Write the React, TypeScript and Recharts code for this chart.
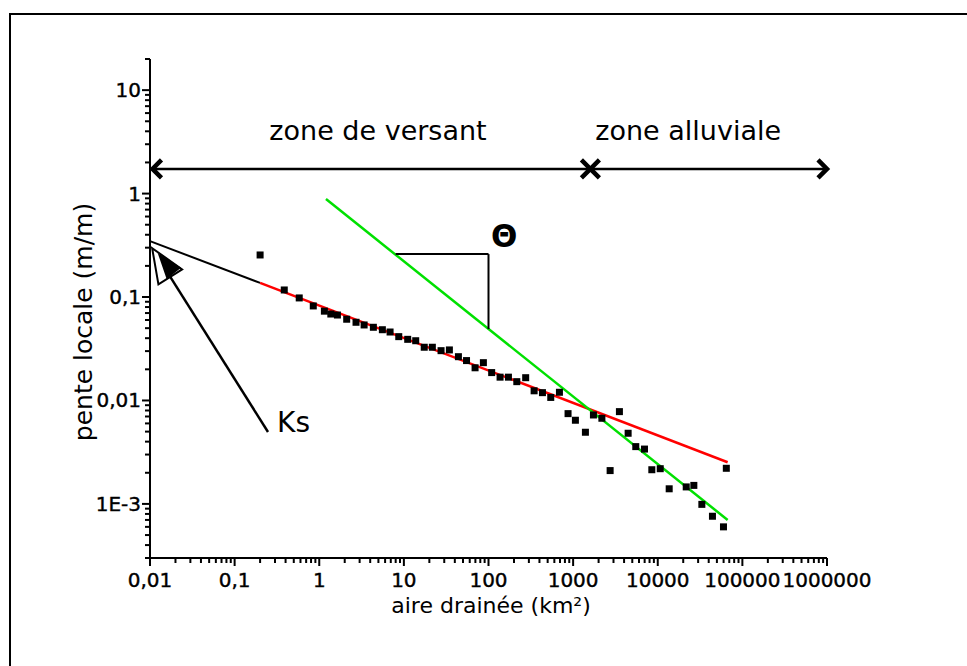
import React from 'react';
import {
  ScatterChart,
  Scatter,
  XAxis,
  YAxis,
  ReferenceLine,
  ReferenceDot,
} from 'recharts';

const FONT = '"DejaVu Sans", sans-serif';

// measured slope / area points
const area = [
  0.2, 0.386, 0.58, 0.85, 1.15, 1.37, 1.64, 2.11, 2.72, 3.39, 4.36, 5.57, 6.87, 8.7, 11.1, 13.8, 17.4,
  21.7, 27.5, 34.5, 44.1, 55, 69.4, 87, 109, 137, 172, 216, 275, 346, 434, 544, 689, 871, 1064, 1397,
  1738, 2187, 2737, 3524, 4467, 5500, 6970, 8510, 10700, 13650, 21700, 26700, 33200, 44300, 59800, 64600,
];
const slope = [
  0.255, 0.117, 0.098, 0.082, 0.073, 0.0685, 0.067, 0.061, 0.057, 0.0537, 0.051, 0.0483, 0.0459, 0.0414,
  0.039, 0.0378, 0.0327, 0.0327, 0.0303, 0.0308, 0.0265, 0.0243, 0.0207, 0.0232, 0.0186, 0.0168, 0.0168,
  0.0152, 0.0166, 0.0124, 0.0119, 0.0107, 0.012, 0.00746, 0.00644, 0.00493, 0.00724, 0.00673, 0.0021,
  0.0078, 0.00482, 0.00358, 0.00339, 0.00214, 0.00219, 0.0014, 0.00146, 0.00151, 0.00099, 0.00076,
  0.0006, 0.00221,
];

// fitted lines (endpoints)
const hillslopeFit = [{ x: 0.2, y: 0.137 }, { x: 67000, y: 0.00253 }];
const ksExtension = [{ x: 0.01, y: 0.347 }, { x: 0.2, y: 0.137 }];
const alluvialFit = [{ x: 1.2, y: 0.885 }, { x: 67000, y: 0.0007 }];
const thetaTriangle = [{ x: 8, y: 0.26 }, { x: 100, y: 0.26 }, { x: 100, y: 0.049 }];

// zone arrows
const zoneArrowY = 1.73;
const zoneBounds = [0.0107, 1600, 1000000];
const zoneNames = ['zone de versant', 'zone alluviale'];
const zoneLabelX = [4.95, 22900];
const zoneLabelY = 3.3;

// Ks arrow
const ksArrow = [{ x: 0.248, y: 0.00496 }, { x: 0.0106, y: 0.297 }];

// axis ticks
const xMajor = [0.01, 0.1, 1, 10, 100, 1000, 10000, 100000, 1000000];
const xLabels = ['0,01', '0,1', '1', '10', '100', '1000', '10000', '100000', '1000000'];
const yMajor = [0.001, 0.01, 0.1, 1, 10];
const yLabels = ['1E-3', '0,01', '0,1', '1', '10'];
const minorSteps = [2, 3, 4, 5, 6, 7, 8, 9];

const xDomain = [0.01, 1000000];
const yDomain = [0.0003, 20];

const points = area.map((x, i) => ({ x, y: slope[i] }));

const buildTicks = (lo: number, hi: number) => {
  const out: number[] = [];
  for (let e = -5; e <= 7; e++) {
    const base = Math.pow(10, e);
    [1, ...minorSteps].forEach((m) => {
      const v = m * base;
      if (v >= lo * 0.9999 && v <= hi * 1.0001) out.push(v);
    });
  }
  return out;
};

const xTicks = buildTicks(xDomain[0], xDomain[1]);
const yTicks = buildTicks(yDomain[0], yDomain[1]);

const majorIndex = (v: number, majors: number[]) =>
  majors.findIndex((m) => Math.abs(Math.log10(v) - Math.log10(m)) < 1e-6);

const labelStyle = {
  fontFamily: FONT,
  fontSize: 20,
  fill: '#000',
  stroke: '#000',
  strokeWidth: 0.4,
};

const XTick = (props: any) => {
  const { x, y, payload } = props;
  const idx = majorIndex(payload.value, xMajor);
  const major = idx >= 0;
  return (
    <g>
      <line x1={x} y1={y} x2={x} y2={y + (major ? 8 : 5)} stroke="#000" strokeWidth={2} />
      {major && (
        <text x={x} y={y + 29} textAnchor="middle" {...labelStyle}>
          {xLabels[idx]}
        </text>
      )}
    </g>
  );
};

const YTick = (props: any) => {
  const { x, y, payload } = props;
  const idx = majorIndex(payload.value, yMajor);
  const major = idx >= 0;
  return (
    <g>
      <line x1={x} y1={y} x2={x - (major ? 8 : 5)} y2={y} stroke="#000" strokeWidth={2} />
      {major && (
        <text x={x - 9} y={y} textAnchor="end" dominantBaseline="central" {...labelStyle}>
          {yLabels[idx]}
        </text>
      )}
    </g>
  );
};

const Square = (props: any) => {
  const { cx, cy } = props;
  if (cx == null || cy == null) return <g />;
  return <rect x={cx - 3.5} y={cy - 3.5} width={7} height={7} fill="#000" />;
};

const chevron = (tx: number, ty: number, dir: number) => (
  <polyline
    points={`${tx - dir * 9},${ty - 9} ${tx},${ty} ${tx - dir * 9},${ty + 9}`}
    fill="none"
    stroke="#000"
    strokeWidth={4.5}
    strokeLinejoin="miter"
  />
);

const DoubleArrow = (props: any) => {
  const { x1, y1, x2, y2 } = props;
  return (
    <g>
      <line x1={x1} y1={y1} x2={x2} y2={y2} stroke="#000" strokeWidth={2.5} />
      {chevron(x1, y1, -1)}
      {chevron(x2, y2, 1)}
    </g>
  );
};

const KsArrow = (props: any) => {
  const { x1, y1, x2, y2 } = props;
  // x2,y2 is the tip
  const dx = x1 - x2;
  const dy = y1 - y2;
  const len = Math.hypot(dx, dy);
  const ux = dx / len;
  const uy = dy / len;
  const bx = x2 + ux * 34;
  const by = y2 + uy * 34;
  const px = -uy * 14;
  const py = ux * 14;
  const left = [bx + px, by + py];
  const right = [bx - px, by - py];
  return (
    <g>
      <line x1={x1} y1={y1} x2={bx} y2={by} stroke="#000" strokeWidth={2.5} />
      <polygon
        points={`${x2},${y2} ${left[0]},${left[1]} ${right[0]},${right[1]}`}
        fill="#fff"
        stroke="#000"
        strokeWidth={2}
        strokeLinejoin="miter"
      />
      <polygon
        points={`${x2 + ux * 7 - px * 0.15},${y2 + uy * 7 - py * 0.15} ${right[0] - ux * 2},${right[1] - uy * 2} ${bx + px * 0.3},${by + py * 0.3}`}
        fill="#000"
      />
    </g>
  );
};

const textDot = (label: string, size: number, anchor: 'start' | 'middle', bold = false) => (p: any) => (
  <text
    x={p.cx}
    y={p.cy}
    textAnchor={anchor}
    fontFamily={FONT}
    fontSize={size}
    fontWeight={bold ? 'bold' : 'normal'}
    fill="#000"
  >
    {label}
  </text>
);

export default function App() {
  return (
    <div style={{ position: 'absolute', left: 0, top: 0, width: 967, height: 666, overflow: 'hidden', background: '#fff' }}>
      <div
        style={{
          position: 'absolute',
          left: 9,
          top: 13,
          width: 1000,
          height: 700,
          borderLeft: '2px solid #000',
          borderTop: '2px solid #000',
        }}
      />
      <div style={{ position: 'absolute', left: 0, top: 0 }}>
        <ScatterChart width={967} height={666} margin={{ top: 59, right: 140, bottom: 68, left: 90 }}>
          <XAxis
            dataKey="x"
            type="number"
            scale="log"
            domain={xDomain}
            allowDataOverflow
            ticks={xTicks}
            interval={0}
            tick={<XTick />}
            tickLine={false}
            tickSize={0}
            tickMargin={0}
            height={40}
            axisLine={{ stroke: '#000', strokeWidth: 2 }}
            label={{
              content: () => (
                <text x={491} y={613} textAnchor="middle" fontFamily={FONT} fontSize={22} fill="#000">
                  aire drainée (km²)
                </text>
              ),
            }}
          />
          <YAxis
            dataKey="y"
            type="number"
            scale="log"
            domain={yDomain}
            allowDataOverflow
            ticks={yTicks}
            interval={0}
            tick={<YTick />}
            tickLine={false}
            tickSize={0}
            tickMargin={0}
            width={60}
            axisLine={{ stroke: '#000', strokeWidth: 2 }}
            label={{
              content: () => {
                const cx = 92;
                const cy = 322;
                return (
                  <text
                    x={cx}
                    y={cy}
                    transform={`rotate(-90 ${cx} ${cy})`}
                    textAnchor="middle"
                    fontFamily={FONT}
                    fontSize={25}
                    fill="#000"
                  >
                    pente locale (m/m)
                  </text>
                );
              },
            }}
          />

          <ReferenceLine segment={ksExtension} stroke="#000" strokeWidth={2} ifOverflow="visible" />
          <ReferenceLine segment={hillslopeFit} stroke="#ff0000" strokeWidth={2.5} ifOverflow="visible" />
          <ReferenceLine segment={alluvialFit} stroke="#00e000" strokeWidth={2.5} ifOverflow="visible" />
          <ReferenceLine segment={[thetaTriangle[0], thetaTriangle[1]]} stroke="#000" strokeWidth={2} ifOverflow="visible" />
          <ReferenceLine segment={[thetaTriangle[1], thetaTriangle[2]]} stroke="#000" strokeWidth={2} ifOverflow="visible" />

          <ReferenceLine
            segment={[{ x: zoneBounds[0], y: zoneArrowY }, { x: zoneBounds[1], y: zoneArrowY }]}
            ifOverflow="visible"
            shape={<DoubleArrow />}
          />
          <ReferenceLine
            segment={[{ x: zoneBounds[1], y: zoneArrowY }, { x: zoneBounds[2], y: zoneArrowY }]}
            ifOverflow="visible"
            shape={<DoubleArrow />}
          />
          <ReferenceLine segment={ksArrow} ifOverflow="visible" shape={<KsArrow />} />

          {zoneNames.map((name, i) => (
            <ReferenceDot
              key={name}
              x={zoneLabelX[i]}
              y={zoneLabelY}
              r={0}
              ifOverflow="visible"
              shape={textDot(name, 27, 'middle')}
            />
          ))}
          <ReferenceDot x={0.317} y={0.00496} r={0} ifOverflow="visible" shape={textDot('Ks', 28, 'start')} />
          <ReferenceDot x={153} y={0.304} r={0} ifOverflow="visible" shape={textDot('Θ', 31, 'middle', true)} />

          <Scatter data={points} shape={<Square />} isAnimationActive={false} />
        </ScatterChart>
      </div>
    </div>
  );
}
